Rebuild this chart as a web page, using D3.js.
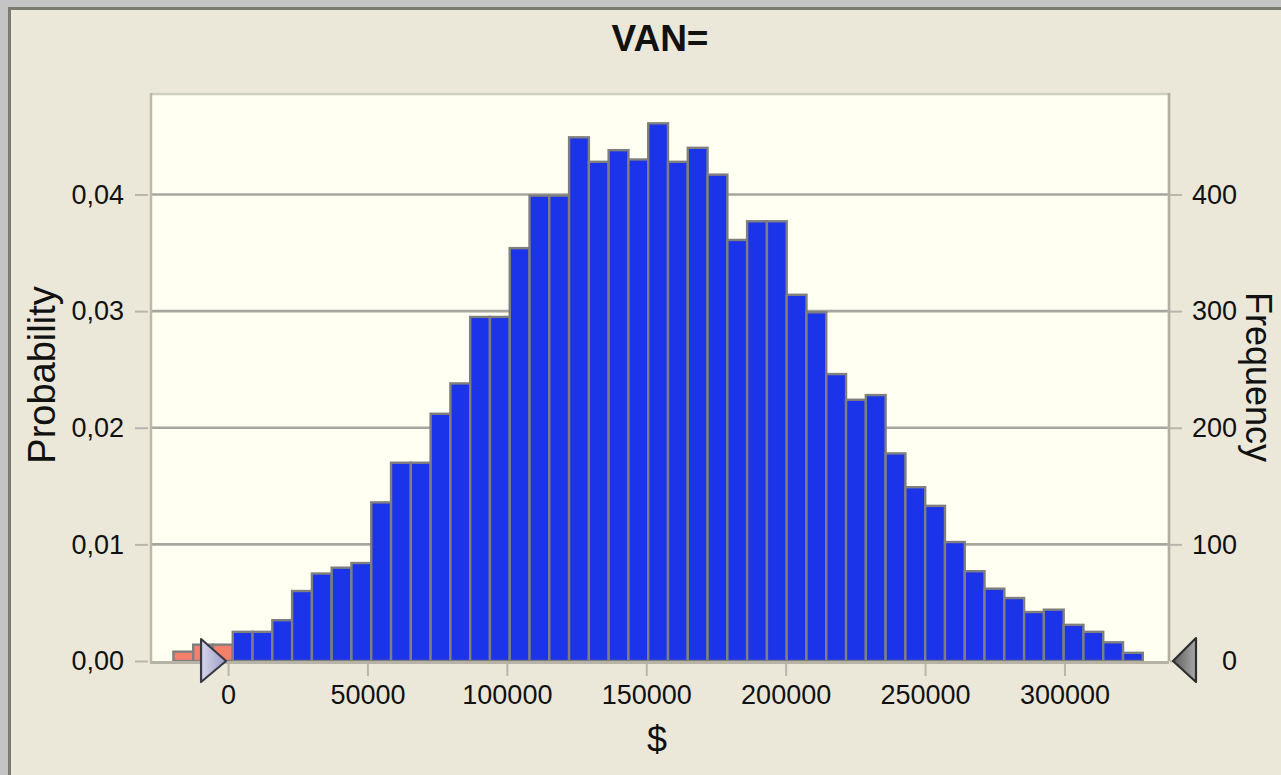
<!DOCTYPE html>
<html>
<head>
<meta charset="utf-8">
<script src="https://cdn.jsdelivr.net/npm/d3@7"></script>
<style>
  body { margin: 0; background: #c4c4c4; overflow: hidden; }
  text { font-family: "Liberation Sans", Arial, sans-serif; fill: #111; }
</style>
</head>
<body>
<div id="chart"></div>
<script>
// histogram of simulated VAN, 10000 iterations
var iterations = 10000,
    binStart = -19600,
    binWidth = 7096,
    frequency = [8, 14, 14, 25, 25, 35, 60, 75, 80, 84, 136, 170, 170, 212, 238, 295, 295,
                 354, 399, 399, 449, 428, 438, 430, 461, 428, 440, 417, 361, 377, 377, 314,
                 299, 246, 224, 228, 178, 149, 133, 102, 77, 62, 54, 42, 44, 31, 25, 16, 7];

var xTicks = [0, 50000, 100000, 150000, 200000, 250000, 300000],
    probTicks = [0, 0.01, 0.02, 0.03, 0.04],
    freqTicks = [0, 100, 200, 300, 400],
    leftDelimiter = 0;

var width = 1281, height = 775,
    margin = {top: 93, right: 112, bottom: 114, left: 150},
    plotW = width - margin.left - margin.right,
    plotH = height - margin.top - margin.bottom;

var svg = d3.select("#chart").append("svg")
    .attr("width", width)
    .attr("height", height);

// window frame
svg.append("rect")
    .attr("x", 9.5).attr("y", 8.5)
    .attr("width", width + 20).attr("height", height + 20)
    .attr("fill", "#ebe8da")
    .attr("stroke", "#7b7b70")
    .attr("stroke-width", 3);

var x = d3.scaleLinear()
    .domain([-28000, 337500])
    .range([0, plotW]);

var y = d3.scaleLinear()
    .domain([0, 0.0487])
    .range([plotH, 0]);

var yFreq = d3.scaleLinear()
    .domain([0, 0.0487 * iterations])
    .range([plotH, 0]);

var bins = frequency.map(function(f, i) {
  return {x0: binStart + i * binWidth, x1: binStart + (i + 1) * binWidth, p: f / iterations};
});

var g = svg.append("g")
    .attr("transform", "translate(" + margin.left + "," + margin.top + ")");

g.append("rect")
    .attr("width", plotW)
    .attr("height", plotH)
    .attr("fill", "#fffff2");

// gridlines
g.append("g")
  .selectAll("line")
  .data(probTicks.slice(1))
  .enter().append("line")
    .attr("x1", 0).attr("x2", plotW)
    .attr("y1", function(d) { return y(d); })
    .attr("y2", function(d) { return y(d); })
    .attr("stroke", "#a6a69e")
    .attr("stroke-width", 2.6);

g.append("g")
  .selectAll("rect")
  .data(bins)
  .enter().append("rect")
    .attr("x", function(d) { return x(d.x0); })
    .attr("y", function(d) { return y(d.p); })
    .attr("width", function(d) { return x(d.x1) - x(d.x0); })
    .attr("height", function(d) { return plotH - y(d.p); })
    .attr("fill", function(d) { return d.x0 < leftDelimiter ? "#f4806c" : "#1b33e9"; })
    .attr("stroke", "#7f7f7f")
    .attr("stroke-width", 2.4);

// plot frame
g.append("path")
    .attr("d", "M1,1H" + plotW + "V" + plotH)
    .attr("fill", "none")
    .attr("stroke", "#cfcdbf")
    .attr("stroke-width", 2.5);
g.append("line")
    .attr("x1", 1).attr("x2", 1).attr("y1", 0).attr("y2", plotH)
    .attr("stroke", "#bdb9aa").attr("stroke-width", 2.5);
g.append("line")
    .attr("x1", plotW).attr("x2", plotW).attr("y1", 0).attr("y2", plotH)
    .attr("stroke", "#b2aea2").attr("stroke-width", 2.5);
g.append("line")
    .attr("x1", 0).attr("x2", plotW).attr("y1", plotH + 1.5).attr("y2", plotH + 1.5)
    .attr("stroke", "#b6b2a6").attr("stroke-width", 3);

function styleAxis(sel) {
  sel.select(".domain").remove();
  sel.selectAll(".tick line").attr("stroke", "#b8b6ac").attr("stroke-width", 2);
  sel.selectAll(".tick text")
      .attr("font-size", 27)
      .attr("fill", "#111")
      .style("font-family", "'Liberation Sans', Arial, sans-serif");
}

var commaFmt = function(d) { return d3.format(".2f")(d).replace(".", ","); };

g.append("g")
    .attr("transform", "translate(-2,0)")
    .call(d3.axisLeft(y).tickValues(probTicks).tickFormat(commaFmt).tickSize(13).tickPadding(11))
    .call(styleAxis);

// right axis labels are right-aligned
g.append("g")
    .attr("transform", "translate(" + (plotW + 1) + ",0)")
    .call(d3.axisRight(yFreq).tickValues(freqTicks).tickFormat(d3.format("d")).tickSize(12).tickPadding(9))
    .call(styleAxis)
  .selectAll(".tick text")
    .attr("x", 67)
    .attr("text-anchor", "end");

g.append("g")
    .attr("transform", "translate(0," + (plotH + 3) + ")")
    .call(d3.axisBottom(x).tickValues(xTicks).tickFormat(d3.format("d")).tickSize(12).tickPadding(9))
    .call(styleAxis);

// delimiter sliders
var defs = svg.append("defs");
var gl = defs.append("linearGradient").attr("id", "gl");
gl.append("stop").attr("offset", "0%").attr("stop-color", "#d6d6ec");
gl.append("stop").attr("offset", "100%").attr("stop-color", "#9c9cc6");
var gr = defs.append("linearGradient").attr("id", "gr");
gr.append("stop").attr("offset", "0%").attr("stop-color", "#5e5e5e");
gr.append("stop").attr("offset", "100%").attr("stop-color", "#a8a8a8");

var lx = x(leftDelimiter) - 2;
g.append("path")
    .attr("d", "M" + (lx - 25) + "," + (plotH - 22) + "L" + lx + "," + plotH + "L" + (lx - 25) + "," + (plotH + 21) + "Z")
    .attr("fill", "url(#gl)")
    .attr("stroke", "#3a3a44")
    .attr("stroke-width", 2.2)
    .attr("stroke-linejoin", "round");

var rx = plotW + 4;
g.append("path")
    .attr("d", "M" + (rx + 23) + "," + (plotH - 23) + "L" + rx + "," + plotH + "L" + (rx + 23) + "," + (plotH + 21) + "Z")
    .attr("fill", "url(#gr)")
    .attr("stroke", "#2e2e2e")
    .attr("stroke-width", 2.2)
    .attr("stroke-linejoin", "round");

// titles
svg.append("text")
    .attr("x", 660).attr("y", 51)
    .attr("text-anchor", "middle")
    .attr("font-size", 37)
    .attr("font-weight", "bold")
    .text("VAN=");

svg.append("text")
    .attr("transform", "translate(55,375) rotate(-90)")
    .attr("text-anchor", "middle")
    .attr("font-size", 38)
    .attr("fill", "#222")
    .text("Probability");

svg.append("text")
    .attr("transform", "translate(1246,377) rotate(90)")
    .attr("text-anchor", "middle")
    .attr("font-size", 36)
    .attr("fill", "#222")
    .text("Frequency");

svg.append("text")
    .attr("x", 657).attr("y", 752)
    .attr("text-anchor", "middle")
    .attr("font-size", 36)
    .attr("fill", "#222")
    .text("$");
</script>
</body>
</html>
